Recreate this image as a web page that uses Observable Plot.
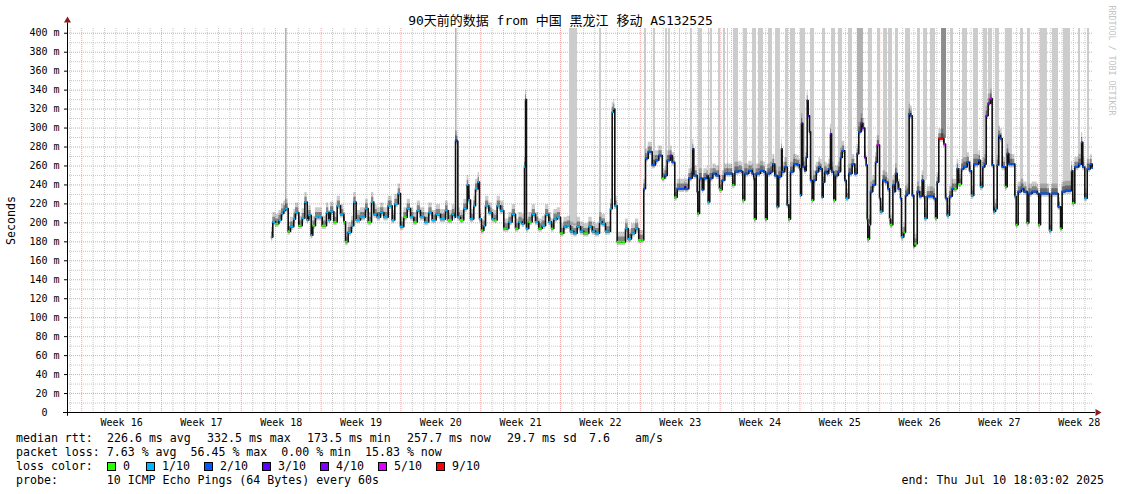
<!DOCTYPE html>
<html><head><meta charset="utf-8">
<script src="https://cdn.jsdelivr.net/npm/d3@7"></script>
<script src="https://cdn.jsdelivr.net/npm/@observablehq/plot@0.6"></script>
<style>
body{margin:0;background:#fff;}
#wrap{position:relative;width:1121px;height:494px;font-family:"DejaVu Sans Mono","Noto Sans CJK SC",monospace;color:#000;overflow:hidden;}
#chart{position:absolute;left:0;top:0;}
#title{position:absolute;left:0;width:1121px;top:13px;text-align:center;font-size:13px;line-height:16px;white-space:pre;}
.lg{position:absolute;left:16px;font-size:11.6px;line-height:14px;white-space:pre;}
.box{position:absolute;width:7px;height:7px;border:1px solid #000;}
.bl{position:absolute;font-size:11.6px;line-height:14px;white-space:pre;}
</style>
</head><body>
<div id="wrap">
  <div id="chart"></div>
  <div id="title"></div>
</div>
<script>
// ---------- data ----------
const chartTitle = "90天前的数据 from 中国 黑龙江 移动 AS132525";
const startTime = new Date("2025-04-11T18:03:02");
const endTime = new Date("2025-07-10T18:03:02");
const weekLabels = ["Week 16","Week 17","Week 18","Week 19","Week 20","Week 21","Week 22","Week 23","Week 24","Week 25","Week 26","Week 27","Week 28"];
const yTickValues = [20,40,60,80,100,120,140,160,180,200,220,240,260,280,300,320,340,360,380,400];

// median rtt: [days since start, ms, loss tenths]
const medianWeeks18to21 = [[17.89,185,1],[18.01,201,1],[18.25,199,0],[18.54,203,1],[18.77,210,1],[18.97,213,1],[19.12,215,1],[19.36,191,0],[19.56,196,1],[19.85,204,1],[20.00,211,1],[20.29,197,0],[20.59,205,1],[20.82,222,1],[21.03,203,1],[21.17,208,1],[21.38,187,1],[21.52,197,0],[21.75,206,1],[22.04,206,1],[22.34,197,0],[22.72,211,1],[22.92,203,1],[23.07,212,1],[23.36,201,0],[23.66,218,1],[23.95,209,1],[24.24,201,0],[24.39,180,0],[24.62,190,1],[24.91,197,1],[25.11,222,1],[25.32,203,1],[25.70,206,1],[26.14,215,1],[26.38,201,0],[26.67,222,1],[26.87,209,1],[27.17,206,1],[27.46,211,1],[27.75,206,1],[28.13,218,1],[28.48,203,1],[28.71,220,1],[29.01,231,1],[29.21,196,1],[29.50,206,0],[29.80,215,1],[30.09,206,1],[30.38,201,0],[30.68,213,1],[30.96,206,1],[31.34,201,1],[31.69,211,1],[31.99,203,1],[32.34,209,1],[32.72,204,1],[33.16,213,1],[33.39,203,0],[33.75,209,1],[33.97,206,1],[34.04,287,2],[34.18,286,2],[34.24,206,1],[34.47,203,0],[34.76,215,1],[35.06,240,1],[35.20,224,1],[35.35,204,1],[35.64,218,1]];
const medianWeeks21to22 = [[35.79,236,1],[36.02,243,1],[36.14,204,1],[36.32,192,0],[36.52,197,1],[36.67,218,1],[36.96,211,1],[37.25,204,1],[37.48,203,0],[37.69,218,1],[37.98,213,1],[38.27,194,0],[38.57,194,1],[38.71,201,1],[39.01,209,1],[39.30,194,0],[39.59,201,1],[39.89,199,1],[40.09,259,1],[40.18,330,2],[40.26,194,1],[40.46,201,0],[40.76,209,1],[41.05,201,1],[41.34,194,0],[41.64,197,1],[41.93,209,1],[42.22,201,1],[42.46,194,0],[42.66,204,1],[42.96,206,1],[43.25,189,0],[43.54,196,1],[43.83,197,1],[44.12,191,1],[44.41,189,1],[44.71,196,1],[45.00,191,1],[45.29,189,0],[45.73,196,1],[46.03,191,1],[46.32,189,1],[46.67,201,1],[46.90,199,1],[47.19,191,1],[47.48,191,1],[47.63,215,1],[47.78,317,1],[47.92,320,1],[48.01,218,1],[48.22,180,0],[48.66,180,0],[48.95,194,1],[49.18,183,1],[49.47,189,1],[49.82,194,1],[50.11,182,0],[50.41,182,0]];
const medianWeeks23to25 = [[50.55,236,2],[50.70,268,2],[50.94,275,2],[51.29,261,2],[51.58,266,2],[51.87,271,2],[52.17,247,0],[52.40,250,2],[52.61,266,2],[52.89,271,3],[53.04,264,2],[53.27,227,0],[53.48,236,2],[53.92,236,2],[54.15,238,3],[54.21,236,2],[54.50,247,2],[54.80,254,2],[54.85,278,2],[54.94,250,2],[55.24,233,2],[55.29,210,0],[55.44,247,2],[55.68,235,2],[55.82,247,2],[56.11,250,2],[56.20,222,1],[56.34,247,2],[56.61,252,2],[56.90,250,2],[57.19,236,0],[57.28,235,0],[57.43,245,2],[57.66,252,2],[58.16,252,2],[58.36,240,0],[58.54,254,2],[58.89,255,2],[59.12,254,2],[59.24,224,0],[59.41,252,2],[59.76,255,2],[60.06,252,2],[60.20,247,2],[60.26,204,0],[60.41,252,2],[60.79,255,2],[61.08,254,2],[61.23,204,0],[61.38,252,2],[61.67,254,2],[61.87,262,2],[62.04,250,2],[62.25,217,1],[62.39,249,2],[62.63,278,2],[62.69,254,2],[62.92,259,2],[63.13,219,2],[63.27,204,0],[63.42,254,2],[63.71,262,2],[64.01,261,2],[64.21,257,2],[64.30,229,1],[64.39,305,4],[64.50,259,2],[64.68,255,2],[64.80,269,2],[64.89,329,4],[64.97,313,3],[65.09,296,3],[65.18,245,2],[65.32,224,0],[65.46,245,2],[65.68,254,2],[65.90,259,2],[66.05,257,2],[66.20,227,1],[66.29,243,2],[66.43,254,2],[66.64,252,2],[66.78,257,2],[66.93,294,4],[67.02,254,2],[67.22,224,0],[67.37,250,2],[67.61,254,2],[67.81,269,2],[67.96,276,2],[68.18,245,2],[68.31,226,1],[68.54,252,2],[68.83,262,2],[69.06,252,2],[69.27,273,2],[69.41,296,2],[69.62,305,4],[69.76,300,4],[69.94,269,4],[70.06,261,2],[70.15,204,0],[70.20,183,0],[70.35,198,0],[70.44,233,2],[70.64,240,2],[70.88,264,2],[71.03,282,5],[71.11,282,5],[71.23,226,2],[71.32,212,1],[71.52,245,2],[71.75,243,2],[71.96,236,2],[72.11,204,0],[72.19,198,0],[72.40,240,2],[72.57,233,2]];
const medianWeeks26to28 = [[72.63,252,2],[72.78,243,2],[72.87,236,2],[73.07,226,2],[73.16,185,1],[73.36,190,0],[73.51,229,2],[73.66,231,2],[73.83,315,2],[73.96,313,2],[74.10,229,2],[74.24,175,0],[74.32,178,0],[74.54,233,2],[74.74,228,2],[74.97,245,2],[75.11,228,2],[75.20,205,1],[75.41,228,2],[75.70,228,2],[75.99,226,2],[76.14,205,0],[76.29,243,2],[76.43,289,9],[76.73,289,9],[76.87,283,5],[77.02,226,2],[77.17,208,1],[77.37,228,2],[77.61,236,2],[77.83,236,0],[78.04,257,2],[78.18,241,0],[78.42,257,2],[78.62,259,2],[78.92,264,2],[79.12,255,2],[79.30,229,1],[79.50,262,2],[79.94,266,2],[80.09,238,1],[80.29,259,2],[80.46,262,2],[80.59,313,4],[80.76,326,4],[80.96,331,5],[81.11,261,2],[81.25,212,1],[81.40,215,1],[81.55,261,2],[81.69,292,2],[81.84,289,2],[81.99,259,2],[82.13,259,2],[82.28,238,0],[82.43,273,2],[82.57,262,2],[82.87,262,2],[83.10,228,1],[83.22,198,0],[83.39,233,2],[83.68,236,2],[83.89,233,2],[84.18,200,0],[84.33,231,2],[84.62,233,2],[85.06,231,2],[85.20,198,0],[85.35,231,2],[85.79,231,2],[86.14,192,1],[86.32,231,2],[86.67,231,2],[86.90,217,2],[87.11,194,0],[87.25,233,2],[87.54,234,2],[87.83,234,2],[88.07,255,2],[88.18,221,0],[88.36,259,2],[88.71,262,2],[88.95,285,2],[89.06,259,2],[89.24,226,1],[89.45,257,2],[89.74,262,2],[89.89,258,2]];

// smoke that runs off the top of the graph: [from day, to day, shade]
const offscaleSmoke = [[19.12,19.25,1],[34.04,34.17,1],[44.04,44.74,0],[46.67,46.84,0],[50.61,50.79,0],[51.40,51.58,0],[52.46,52.63,0],[52.72,52.89,0],[53.68,53.77,0],[54.65,54.82,0],[55.35,55.70,0],[56.23,56.32,0],[56.40,56.58,0],[57.11,57.28,0],[57.54,57.72,0],[57.89,57.98,0],[58.42,58.86,0],[59.30,59.65,0],[60.09,60.44,0],[60.61,61.05,0],[61.49,61.84,0],[62.11,62.54,0],[62.98,63.25,0],[63.42,63.86,0],[64.30,64.74,0],[65.18,65.53,0],[66.23,66.49,0],[67.02,67.37,0],[67.63,67.98,0],[68.51,68.86,0],[69.30,69.82,1],[70.26,70.61,0],[71.05,71.32,0],[71.58,71.93,0],[72.02,72.37,0],[72.63,72.89,0],[73.51,73.95,0],[74.56,74.82,0],[75.09,75.44,0],[75.70,76.14,0],[76.67,77.11,2],[77.46,77.72,0],[78.51,78.95,0],[79.47,79.91,0],[80.35,80.70,0],[80.79,81.14,0],[81.40,81.75,0],[82.28,82.89,0],[83.60,83.86,0],[84.21,84.47,0],[85.35,85.96,0],[86.40,86.93,0],[87.37,87.98,0],[88.68,88.86,0],[89.47,89.65,0]];

const lossLevels = [0,1,2,3,4,5,9];
const lossLabels = ["0","1/10","2/10","3/10","4/10","5/10","9/10"];
const lossColors = ["#26ff00","#00b8ff","#0059ff","#5e00ff","#7e00ff","#dd00ff","#ff0000"];
const medianParts = ["median rtt:","226.6 ms avg","332.5 ms max","173.5 ms min","257.7 ms now","29.7 ms sd","7.6","am/s"];
const lossLine = "packet loss: 7.63 % avg  56.45 % max  0.00 % min  15.83 % now";
const probeLine = "probe:       10 ICMP Echo Pings (64 Bytes) every 60s";
const endLine = "end: Thu Jul 10 18:03:02 2025";

// ---------- build ----------
const DAY = 864e5;
const toDate = d => new Date(+startTime + d * DAY);
const colorOf = l => lossColors[lossLevels.indexOf(l)];
const medianAll = [...medianWeeks18to21, ...medianWeeks21to22, ...medianWeeks23to25, ...medianWeeks26to28];
const rows = medianAll.map((r, i) => ({
  t: toDate(r[0]),
  t2: toDate(i + 1 < medianAll.length ? medianAll[i + 1][0] : 90),
  ms: r[1], loss: r[2]
}));
const medianDays = medianAll.map(r => r[0]);
const medAt = day => medianAll[Math.max(0, d3.bisectRight(medianDays, day) - 1)][1];
const shadeColors = ["#cccccc", "#b0b0b0", "#8c8c8c"];
const bars = offscaleSmoke.map(b => ({
  x1: toDate(b[0]), x2: toDate(b[1]),
  base: Math.max(medAt(b[0]), medAt((b[0] + b[1]) / 2)), fill: shadeColors[b[2]]
}));

const pxTime = 90 * DAY / 1026;
const dayLines = d3.timeDay.range(startTime, endTime).filter(d => d.getDay() !== 0);
const sundays = d3.timeSunday.range(startTime, endTime);
const weekRows = sundays.map((s, i) => ({mid: d3.timeHour.offset(s, 84), label: weekLabels[i]}));
const smokeAbove = 10, smokeBelow = 4;

const chart = Plot.plot({
  width: 1121, height: 430,
  marginLeft: 67, marginRight: 28, marginTop: 28, marginBottom: 18,
  x: {type: "time", domain: [startTime, endTime], axis: null},
  y: {domain: [0, 405], axis: null},
  color: {type: "identity"},
  style: {fontFamily: "'DejaVu Sans Mono', monospace", fontSize: "10px", background: "#fff", overflow: "visible", color: "#000"},
  marks: [
    Plot.ruleY(d3.range(10, 400, 20), {stroke: "#c8c8c8", strokeDasharray: "1,1"}),
    Plot.ruleX(dayLines, {stroke: "#c8c8c8", strokeDasharray: "1,1"}),
    Plot.ruleY(yTickValues, {stroke: "#f0a0a0", strokeDasharray: "1,1"}),
    Plot.ruleX(sundays, {stroke: "#f0a0a0", strokeDasharray: "1,1", y1: -1, y2: 405}),
    Plot.rectY(bars, {x1: "x1", x2: "x2", y1: "base", y2: 405, fill: "fill"}),
    Plot.areaY(rows, {x: "t", y1: d => d.ms - smokeBelow, y2: d => d.ms + smokeAbove, curve: "step-after", fill: "#000", fillOpacity: 0.2}),
    Plot.areaY(rows, {x: "t", y1: d => d.ms - 2, y2: d => d.ms + 5, curve: "step-after", fill: "#000", fillOpacity: 0.35}),
    Plot.line(rows, {x: "t", y: "ms", curve: "step-after", stroke: "#111", strokeWidth: 1.6}),
    Plot.ruleY(rows, {y: "ms", x1: "t", x2: "t2", stroke: d => colorOf(d.loss), strokeWidth: 2}),
    Plot.axisY({ticks: yTickValues, tickFormat: d => `${d} m`, tickSize: 3, tickPadding: 5, fontSize: 10}),
    Plot.axisY({ticks: [0], tickFormat: () => "0", tickSize: 3, tickPadding: 17, fontSize: 10}),
    Plot.text(weekRows, {x: "mid", text: "label", frameAnchor: "bottom", dy: 13, fontSize: 10}),
    Plot.ruleY([0], {x1: new Date(+startTime - 4 * pxTime), x2: new Date(+endTime + 2 * pxTime), stroke: "#000"}),
    Plot.ruleX([startTime], {y1: -4, y2: 411, stroke: "#000"}),
    Plot.dot([{t: endTime, v: 0}], {x: "t", y: "v", symbol: "triangle", r: 2.6, rotate: 90, fill: "#8b1a1a", stroke: "none", dx: 4}),
    Plot.dot([{t: startTime, v: 405}], {x: "t", y: "v", symbol: "triangle", r: 2.6, fill: "#8b1a1a", stroke: "none", dy: -8}),
    Plot.text(["Seconds"], {frameAnchor: "left", textAnchor: "middle", dx: -56, rotate: -90, fontSize: 11.6}),
    Plot.text(["RRDTOOL / TOBI OETIKER"], {frameAnchor: "top-right", textAnchor: "middle", dx: 21, dy: 32, rotate: 90, fontSize: 8.3, fill: "#c4c4c4"})
  ]
});
document.getElementById("chart").appendChild(chart);
document.getElementById("title").textContent = chartTitle;

// ---------- legend (below the svg) ----------
const wrap = document.getElementById("wrap");
function addText(cls, txt, left, top, right) {
  const d = document.createElement("div");
  d.className = cls; d.textContent = txt; d.style.top = top + "px";
  if (right != null) { d.style.right = right + "px"; d.style.left = "auto"; } else d.style.left = left + "px";
  wrap.appendChild(d);
}
const medianX = [16, 107, 207, 307, 407, 507, 589, 635];
medianParts.forEach((p, i) => addText("bl", p, medianX[i], 431));
addText("lg", lossLine, 16, 445);
addText("lg", "loss color:", 16, 459);
addText("lg", probeLine, 16, 473);
addText("bl", endLine, null, 473, 17);
const boxX = [107, 146, 204, 262, 320, 378, 436];
lossLabels.forEach((lab, i) => {
  const b = document.createElement("div");
  b.className = "box"; b.style.left = boxX[i] + "px"; b.style.top = "462px"; b.style.background = lossColors[i];
  wrap.appendChild(b);
  addText("bl", lab, boxX[i] + 16, 459);
});
</script>
</body></html>
